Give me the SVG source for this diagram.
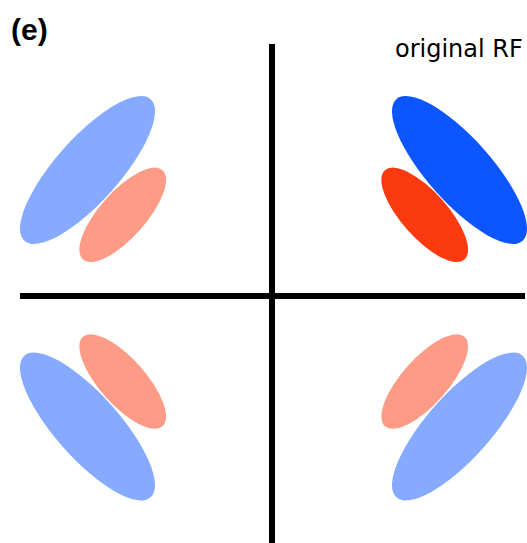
<svg xmlns="http://www.w3.org/2000/svg" width="527" height="543" viewBox="0 0 527 543">
  <style>
    .axis { stroke: #000; stroke-width: 6; fill: none; }
    .lb { fill: #86aaff; }
    .lr { fill: #fe9b86; }
    .db { fill: #0c55ff; }
    .dr { fill: #fb3a10; }
    .title { font-family: "Liberation Sans", Arial, sans-serif; font-weight: bold; font-size: 30px; fill: #000; }
    .label { font-family: "DejaVu Sans", Verdana, sans-serif; font-size: 24px; fill: #000; }
  </style>
  <rect width="527" height="543" fill="#fff"/>
  <g id="axes">
    <line class="axis" x1="272" y1="44" x2="272" y2="543"/>
    <line class="axis" x1="20" y1="296" x2="525" y2="296"/>
  </g>
  <g id="upper-left">
    <ellipse class="lb" cx="87.5" cy="170" rx="94.9" ry="32" transform="rotate(-48.3 87.5 170)"/>
    <ellipse class="lr" cx="122.7" cy="214.8" rx="59.8" ry="23" transform="rotate(-48.3 122.7 214.8)"/>
  </g>
  <g id="upper-right">
    <ellipse class="db" cx="459.5" cy="170" rx="94.9" ry="32" transform="rotate(48.3 459.5 170)"/>
    <ellipse class="dr" cx="424.7" cy="214.8" rx="59.8" ry="23" transform="rotate(48.3 424.7 214.8)"/>
  </g>
  <g id="lower-left">
    <ellipse class="lb" cx="87.5" cy="426.5" rx="94.9" ry="32" transform="rotate(48.3 87.5 426.5)"/>
    <ellipse class="lr" cx="122.7" cy="381.5" rx="59.8" ry="23" transform="rotate(48.3 122.7 381.5)"/>
  </g>
  <g id="lower-right">
    <ellipse class="lb" cx="459.5" cy="426.5" rx="94.9" ry="32" transform="rotate(-48.3 459.5 426.5)"/>
    <ellipse class="lr" cx="424.7" cy="381.5" rx="59.8" ry="23" transform="rotate(-48.3 424.7 381.5)"/>
  </g>
  <text class="title" x="11" y="40">(e)</text>
  <text class="label" x="395" y="57">original RF</text>
</svg>
